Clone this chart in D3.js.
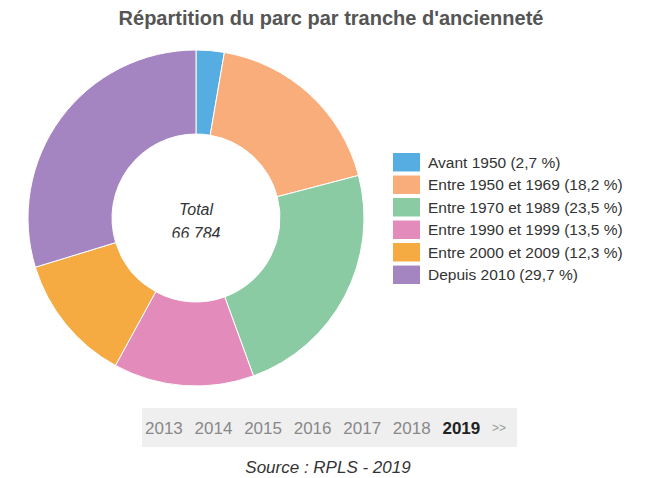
<!DOCTYPE html>
<html><head><meta charset="utf-8">
<script src="https://cdn.jsdelivr.net/npm/d3@7"></script>
<style>body{margin:0;background:#fff;}svg{display:block;}</style>
</head><body>
<script>
const title = "Répartition du parc par tranche d'ancienneté";
const categories = ["Avant 1950", "Entre 1950 et 1969", "Entre 1970 et 1989", "Entre 1990 et 1999", "Entre 2000 et 2009", "Depuis 2010"];
const percents = [2.7, 18.2, 23.5, 13.5, 12.3, 29.7];
const percentLabels = ["2,7", "18,2", "23,5", "13,5", "12,3", "29,7"];
const colors = ["#55ade2", "#f9ad7b", "#8bcba3", "#e38bbb", "#f6aa42", "#a585c1"];
const totalLabel = "66 784";
const years = ["2013", "2014", "2015", "2016", "2017", "2018", "2019"];
const currentYear = "2019";
const source = "Source : RPLS - 2019";

const W = 650, H = 478;
const svg = d3.select("body").append("svg").attr("width", W).attr("height", H);
const font = "Arial, 'Liberation Sans', sans-serif";

svg.append("text").attr("x", 331).attr("y", 25).attr("text-anchor", "middle")
  .attr("font-family", font).attr("font-size", 20).attr("font-weight", "bold")
  .attr("fill", "#555").text(title);

const cx = 196, cy = 218, R = 168, r = 84;
const pie = d3.pie().sort(null).value(d => d)(percents);
const arc = d3.arc().innerRadius(r).outerRadius(R);
const g = svg.append("g").attr("transform", `translate(${cx},${cy})`);
g.selectAll("path").data(pie).join("path")
  .attr("d", arc).attr("fill", (d, i) => colors[i])
  .attr("stroke", "#fff").attr("stroke-width", 1);

svg.append("defs").append("clipPath").attr("id", "centerClip")
  .append("rect").attr("x", -80).attr("y", -40).attr("width", 160).attr("height", 59.5);
const ct = g.append("g").attr("clip-path", "url(#centerClip)");
ct.append("text").attr("y", -3).attr("text-anchor", "middle")
  .attr("font-family", font).attr("font-size", 16).attr("font-style", "italic")
  .attr("fill", "#333").text("Total");
ct.append("text").attr("y", 20.5).attr("text-anchor", "middle")
  .attr("font-family", font).attr("font-size", 16).attr("font-style", "italic")
  .attr("fill", "#333").text(totalLabel);

const leg = svg.append("g");
const ly = d3.scaleBand().domain(categories).range([153, 284]).paddingInner(0.18);
categories.forEach((c, i) => {
  leg.append("rect").attr("x", 393).attr("y", ly(c)).attr("width", 27).attr("height", ly.bandwidth())
    .attr("fill", colors[i]);
  leg.append("text").attr("x", 428).attr("y", ly(c) + ly.bandwidth() / 2 + 5.5)
    .attr("font-family", font).attr("font-size", 15.5).attr("fill", "#333")
    .text(`${c} (${percentLabels[i]} %)`);
});

svg.append("rect").attr("x", 142).attr("y", 408).attr("width", 375).attr("height", 39).attr("fill", "#efeff0");
const yx = d3.scalePoint().domain([...years, ">>"]).range([145, 492]);
years.forEach(y => {
  svg.append("text").attr("x", yx(y)).attr("y", 434)
    .attr("font-family", font).attr("font-size", 17)
    .attr("font-weight", y === currentYear ? "bold" : "normal")
    .attr("fill", y === currentYear ? "#222" : "#888").text(y);
});
svg.append("text").attr("x", yx(">>")).attr("y", 432)
  .attr("font-family", font).attr("font-size", 12).attr("fill", "#999").text(">>");

svg.append("text").attr("x", 328).attr("y", 473).attr("text-anchor", "middle")
  .attr("font-family", font).attr("font-size", 17).attr("font-style", "italic")
  .attr("fill", "#333").text(source);
</script>
</body></html>
